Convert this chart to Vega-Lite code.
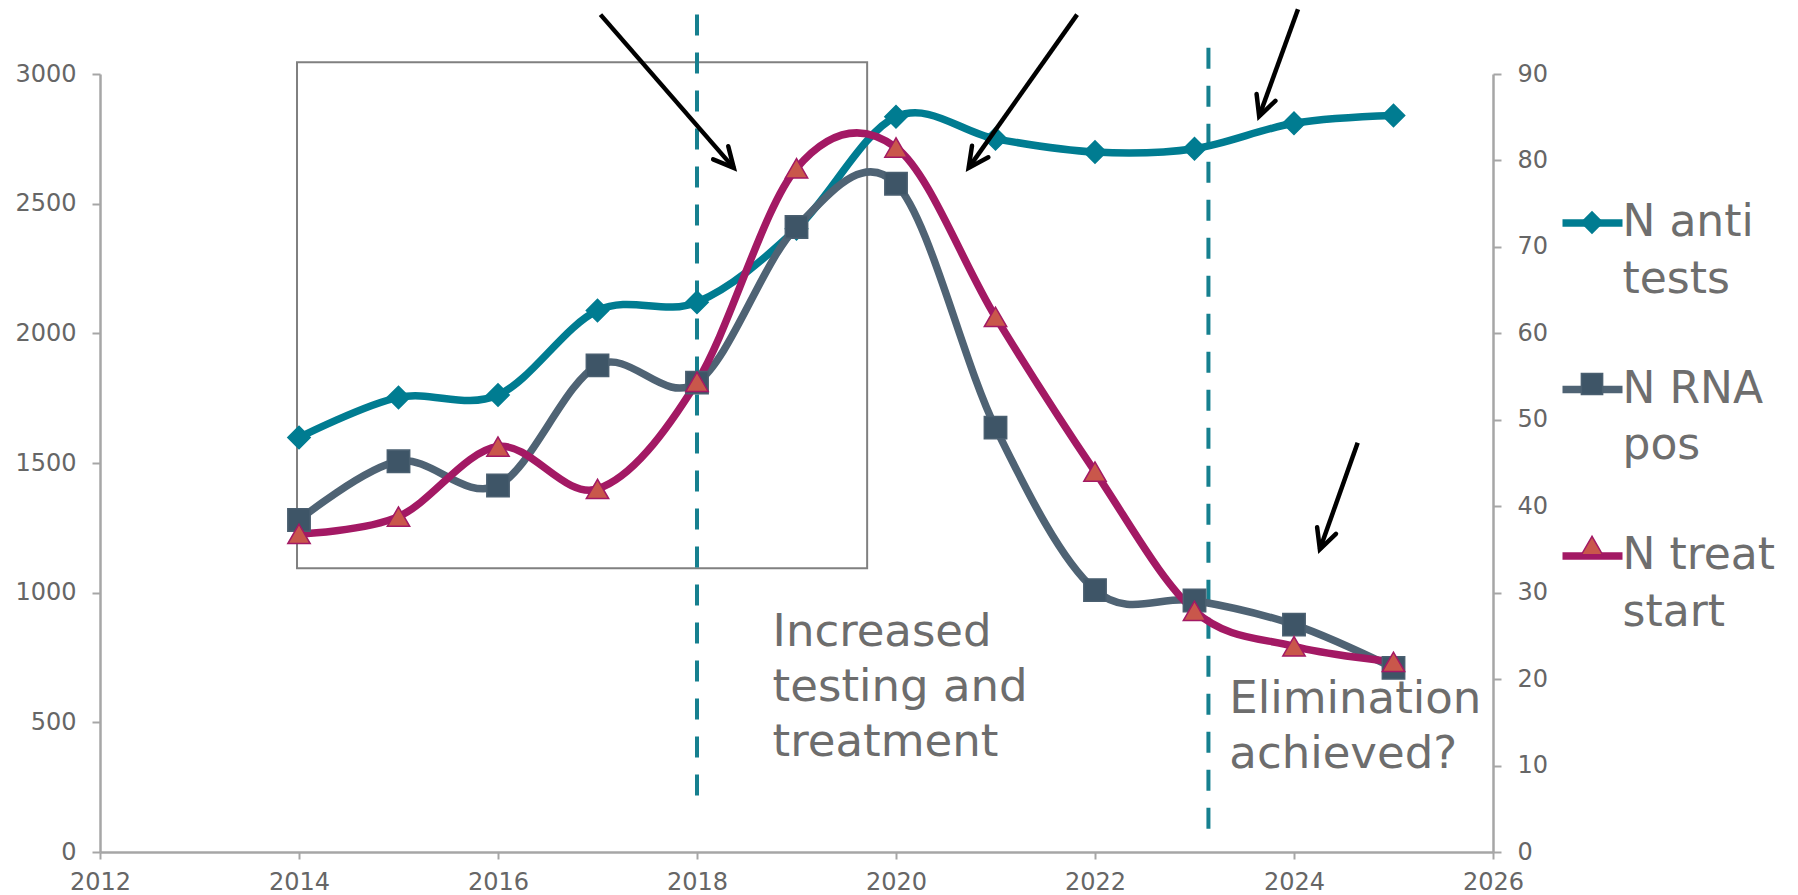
{
  "$schema": "https://vega.github.io/schema/vega-lite/v6.json",
  "width": 1393,
  "height": 778,
  "autosize": "none",
  "padding": {"left": 100, "top": 74, "right": 305, "bottom": 43},
  "background": "white",
  "config": {
    "font": "DejaVu Sans",
    "view": {"stroke": null},
    "axis": {
      "grid": false,
      "domainColor": "#A6A6A6",
      "domainWidth": 2.5,
      "tickColor": "#A6A6A6",
      "tickWidth": 2,
      "labelColor": "#666666",
      "labelFontSize": 24,
      "labelFont": "DejaVu Sans"
    },
    "style": {"guide-label": {"lineHeight": 56.5}}
  },
  "datasets": {
    "series": [
      {"year": 2014, "series": "N anti tests", "value": 1598},
      {"year": 2015, "series": "N anti tests", "value": 1753},
      {"year": 2016, "series": "N anti tests", "value": 1762},
      {"year": 2017, "series": "N anti tests", "value": 2088},
      {"year": 2018, "series": "N anti tests", "value": 2120},
      {"year": 2019, "series": "N anti tests", "value": 2403},
      {"year": 2020, "series": "N anti tests", "value": 2835},
      {"year": 2021, "series": "N anti tests", "value": 2750},
      {"year": 2022, "series": "N anti tests", "value": 2699},
      {"year": 2023, "series": "N anti tests", "value": 2712},
      {"year": 2024, "series": "N anti tests", "value": 2810},
      {"year": 2025, "series": "N anti tests", "value": 2840},
      {"year": 2014, "series": "N RNA pos", "value": 38.4},
      {"year": 2015, "series": "N RNA pos", "value": 45.2},
      {"year": 2016, "series": "N RNA pos", "value": 42.4},
      {"year": 2017, "series": "N RNA pos", "value": 56.3},
      {"year": 2018, "series": "N RNA pos", "value": 54.3},
      {"year": 2019, "series": "N RNA pos", "value": 72.3},
      {"year": 2020, "series": "N RNA pos", "value": 77.3},
      {"year": 2021, "series": "N RNA pos", "value": 49.1},
      {"year": 2022, "series": "N RNA pos", "value": 30.3},
      {"year": 2023, "series": "N RNA pos", "value": 29.1},
      {"year": 2024, "series": "N RNA pos", "value": 26.3},
      {"year": 2025, "series": "N RNA pos", "value": 21.3},
      {"year": 2014, "series": "N treat start", "value": 36.8},
      {"year": 2015, "series": "N treat start", "value": 38.8},
      {"year": 2016, "series": "N treat start", "value": 46.9},
      {"year": 2017, "series": "N treat start", "value": 42.0},
      {"year": 2018, "series": "N treat start", "value": 54.4},
      {"year": 2019, "series": "N treat start", "value": 79.1},
      {"year": 2020, "series": "N treat start", "value": 81.5},
      {"year": 2021, "series": "N treat start", "value": 61.9},
      {"year": 2022, "series": "N treat start", "value": 44.0},
      {"year": 2023, "series": "N treat start", "value": 27.9},
      {"year": 2024, "series": "N treat start", "value": 23.8},
      {"year": 2025, "series": "N treat start", "value": 22.0}
    ],
    "arrows": [
      {"year": 2018.37, "value": 2638, "year2": 2017.03, "value2": 3229},
      {"year": 2020.73, "value": 2638, "year2": 2021.82, "value2": 3229},
      {"year": 2023.65, "value": 2837, "year2": 2024.04, "value2": 3250},
      {"year": 2024.26, "value": 1167, "year2": 2024.64, "value2": 1578}
    ]
  },
  "encoding": {
    "x": {
      "field": "year",
      "type": "quantitative",
      "scale": {"domain": [2012, 2026], "nice": false, "zero": false},
      "axis": {
        "values": [2012, 2014, 2016, 2018, 2020, 2022, 2024, 2026],
        "format": "d",
        "title": null,
        "tickSize": 7,
        "labelPadding": 11,
        "labelFlush": false,
        "labelOverlap": false
      }
    }
  },
  "layer": [
    {
      "encoding": {
        "y": {
          "field": "value",
          "type": "quantitative",
          "scale": {"domain": [0, 3000], "nice": false, "zero": true},
          "axis": {
            "orient": "left",
            "values": [0, 500, 1000, 1500, 2000, 2500, 3000],
            "format": "d",
            "title": null,
            "tickSize": 8,
            "labelPadding": 16,
            "labelOverlap": false,
            "labelFlush": false
          }
        }
      },
      "layer": [
        {
          "data": {"values": [{"year": 2013.98, "year2": 2019.71, "value": 3045, "value2": 1094}]},
          "mark": {"type": "rect", "filled": false, "stroke": "#808080", "strokeWidth": 2},
          "encoding": {"x2": {"field": "year2"}, "y2": {"field": "value2"}}
        },
        {
          "data": {"values": [
            {"year": 2018, "value": 3229, "value2": 193},
            {"year": 2023.14, "value": 3101, "value2": 68}
          ]},
          "mark": {"type": "rule", "stroke": "#16808F", "strokeWidth": 4, "strokeDash": [21, 17]},
          "encoding": {"y2": {"field": "value2"}}
        },
        {
          "data": {"values": [
            {"year": 2018.76, "value": 794, "note": "Increased\ntesting and\ntreatment"},
            {"year": 2023.35, "value": 535, "note": "Elimination\nachieved?"}
          ]},
          "mark": {"type": "text", "align": "left", "baseline": "alphabetic", "fontSize": 45, "lineHeight": 55, "lineBreak": "\n", "color": "#6D6D6D", "font": "DejaVu Sans"},
          "encoding": {"text": {"field": "note"}}
        },
        {
          "data": {"name": "series"},
          "transform": [{"filter": "datum.series == 'N anti tests'"}],
          "mark": {"type": "line", "interpolate": "cardinal", "strokeWidth": 7.5, "strokeCap": "round", "strokeJoin": "round"},
          "encoding": {
            "color": {
              "field": "series",
              "type": "nominal",
              "scale": {"domain": ["N anti tests", "N RNA pos", "N treat start"], "range": ["#007C91", "#4F6374", "#A31964"]},
              "legend": {
                "orient": "none",
                "legendX": 1458.5,
                "legendY": 115,
                "title": null,
                "symbolType": "stroke",
                "symbolSize": 3600,
                "symbolStrokeWidth": 7.5,
                "labelFontSize": 44,
                "labelFont": "DejaVu Sans",
                "labelColor": "#6E6E6E",
                "labelOffset": -4,
                "labelLimit": 500,
                "rowPadding": 53.5,
                "padding": 0,
                "labelExpr": "[substring(datum.label, 0, lastindexof(datum.label, ' ')), substring(datum.label, lastindexof(datum.label, ' ') + 1)]"
              }
            }
          }
        },
        {
          "data": {"name": "series"},
          "transform": [
            {"filter": "datum.series == 'N anti tests'"},
            {"calculate": "datum.series + ' marker'", "as": "marker"}
          ],
          "mark": {"type": "point", "filled": true, "opacity": 1, "size": 500, "strokeWidth": 1.5},
          "encoding": {
            "fill": {
              "field": "marker",
              "type": "nominal",
              "scale": {"domain": ["N anti tests marker", "N RNA pos marker", "N treat start marker"], "range": ["#007C91", "#3E5567", "#C9574B"]},
              "legend": {"orient": "none", "legendX": 1470, "legendY": 126.5, "title": null, "symbolSize": 450, "symbolStrokeWidth": 1.5, "labelFontSize": 44, "labelOpacity": 0, "labelOffset": 0, "labelLimit": 500, "rowPadding": 60.5, "padding": 0, "labelExpr": "[' ', ' ']"}
            },
            "stroke": {
              "field": "marker",
              "type": "nominal",
              "scale": {"domain": ["N anti tests marker", "N RNA pos marker", "N treat start marker"], "range": ["#007C91", "#4A5F70", "#A31964"]},
              "legend": {"orient": "none", "legendX": 1470, "legendY": 126.5, "title": null, "symbolSize": 450, "symbolStrokeWidth": 1.5, "labelFontSize": 44, "labelOpacity": 0, "labelOffset": 0, "labelLimit": 500, "rowPadding": 60.5, "padding": 0, "labelExpr": "[' ', ' ']"}
            },
            "shape": {
              "field": "marker",
              "type": "nominal",
              "scale": {"domain": ["N anti tests marker", "N RNA pos marker", "N treat start marker"], "range": ["diamond", "square", "triangle-up"]},
              "legend": {"orient": "none", "legendX": 1470, "legendY": 126.5, "title": null, "symbolSize": 450, "symbolStrokeWidth": 1.5, "labelFontSize": 44, "labelOpacity": 0, "labelOffset": 0, "labelLimit": 500, "rowPadding": 60.5, "padding": 0, "labelExpr": "[' ', ' ']"}
            }
          }
        },
        {
          "data": {"name": "arrows"},
          "mark": {"type": "rule", "color": "black", "strokeWidth": 4.5, "strokeCap": "butt"},
          "encoding": {"x2": {"field": "year2"}, "y2": {"field": "value2"}}
        },
        {
          "data": {"name": "arrows"},
          "transform": [
            {"calculate": "atan2((datum.value2 - datum.value) * 0.25947, (datum.year - datum.year2) * 99.46) * 180 / PI", "as": "angle"}
          ],
          "mark": {"type": "point", "shape": "M-1,-0.5L0,0L-1,0.5", "filled": false, "stroke": "black", "strokeWidth": 4.5, "size": 1600, "opacity": 1, "strokeJoin": "miter", "strokeCap": "round"},
          "encoding": {"angle": {"field": "angle", "type": "quantitative", "scale": null}}
        }
      ]
    },
    {
      "encoding": {
        "y": {
          "field": "value",
          "type": "quantitative",
          "scale": {"domain": [0, 90], "nice": false, "zero": true},
          "axis": {
            "orient": "right",
            "values": [0, 10, 20, 30, 40, 50, 60, 70, 80, 90],
            "format": "d",
            "title": null,
            "tickSize": 8,
            "labelPadding": 16,
            "labelOverlap": false,
            "labelFlush": false
          }
        }
      },
      "layer": [
        {
          "data": {"name": "series"},
          "transform": [{"filter": "datum.series != 'N anti tests'"}],
          "mark": {"type": "line", "interpolate": "cardinal", "strokeWidth": 7.5, "strokeCap": "round", "strokeJoin": "round"},
          "encoding": {
            "color": {
              "field": "series",
              "type": "nominal",
              "scale": {"domain": ["N anti tests", "N RNA pos", "N treat start"], "range": ["#007C91", "#4F6374", "#A31964"]}
            }
          }
        },
        {
          "data": {"name": "series"},
          "transform": [
            {"filter": "datum.series != 'N anti tests'"},
            {"calculate": "datum.series + ' marker'", "as": "marker"}
          ],
          "mark": {"type": "point", "filled": true, "opacity": 1, "size": 500, "strokeWidth": 1.5},
          "encoding": {
            "fill": {
              "field": "marker",
              "type": "nominal",
              "scale": {"domain": ["N anti tests marker", "N RNA pos marker", "N treat start marker"], "range": ["#007C91", "#3E5567", "#C9574B"]}
            },
            "stroke": {
              "field": "marker",
              "type": "nominal",
              "scale": {"domain": ["N anti tests marker", "N RNA pos marker", "N treat start marker"], "range": ["#007C91", "#4A5F70", "#A31964"]}
            },
            "shape": {
              "field": "marker",
              "type": "nominal",
              "scale": {"domain": ["N anti tests marker", "N RNA pos marker", "N treat start marker"], "range": ["diamond", "square", "triangle-up"]}
            }
          }
        }
      ]
    }
  ],
  "resolve": {"scale": {"y": "independent"}}
}
